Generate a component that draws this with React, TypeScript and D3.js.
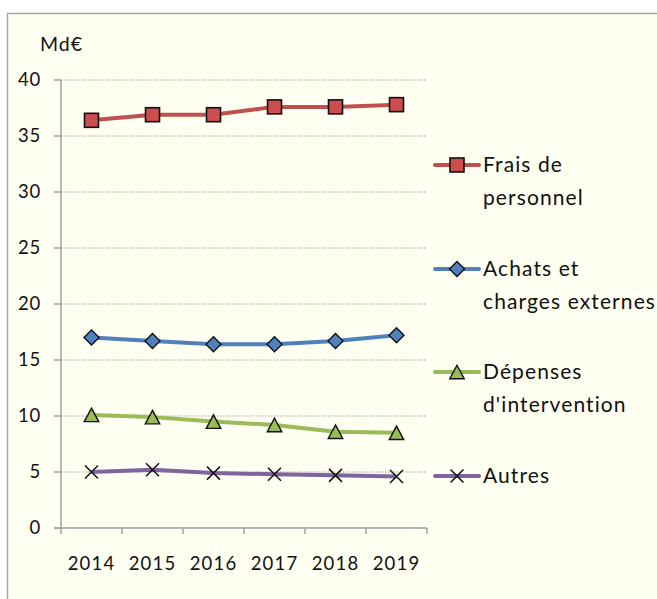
import React from "react";
import * as d3 from "d3";

const years = ["2014", "2015", "2016", "2017", "2018", "2019"];
const frais = [36.4, 36.9, 36.9, 37.6, 37.6, 37.8];
const achats = [17.0, 16.7, 16.4, 16.4, 16.7, 17.2];
const depenses = [10.1, 9.9, 9.5, 9.2, 8.6, 8.5];
const autres = [5.0, 5.2, 4.9, 4.8, 4.7, 4.6];
const yTicks = [0, 5, 10, 15, 20, 25, 30, 35, 40];
const unitLabel = "Md€";

const seriesNames = [["Frais de", "personnel"], ["Achats et", "charges externes"], ["Dépenses", "d'intervention"], ["Autres"]];
const seriesColors = ["#C0504D", "#4F81BD", "#9BBB59", "#8064A2"];
const markerFills = ["#CB4D4D", "#4F81BD", "#9BBB59", "none"];
const markerTypes = ["square", "diamond", "triangle", "x"];

const FONT = "Lato, 'Open Sans', sans-serif";

function Marker({ type, x, y, fill }: { type: string; x: number; y: number; fill: string }) {
  if (type === "square") {
    return <rect x={x - 7} y={y - 7} width={14} height={14} fill={fill} stroke="#111" strokeWidth={1.6} />;
  }
  if (type === "diamond") {
    const r = 7.5;
    return <path d={`M${x},${y - r}L${x + r},${y}L${x},${y + r}L${x - r},${y}Z`} fill={fill} stroke="#111" strokeWidth={1.4} />;
  }
  if (type === "triangle") {
    const h = 13.5, w = 14.5;
    return <path d={`M${x},${y - h / 2}L${x + w / 2},${y + h / 2}L${x - w / 2},${y + h / 2}Z`} fill={fill} stroke="#111" strokeWidth={1.4} />;
  }
  const r = 6.5;
  return <path d={`M${x - r},${y - r}L${x + r},${y + r}M${x + r},${y - r}L${x - r},${y + r}`} stroke="#111" strokeWidth={1.5} />;
}

export default function App() {
  const W = 657, H = 599;
  const x = d3.scaleBand<string>().domain(years).range([61, 427]);
  const y = d3.scaleLinear().domain([0, 40]).range([528, 80]);
  const data = [frais, achats, depenses, autres];
  const line = d3.line<number>().x((_, i) => (x(years[i]) as number) + x.bandwidth() / 2).y((d) => y(d));
  const legendY = [165, 269, 372, 476];
  const xEdges = [...years.map((yr) => x(yr) as number), 427];

  return (
    <svg width={W} height={H} style={{ position: "absolute", left: 0, top: 0 }} fontFamily={FONT}>
      <rect x={0} y={0} width={W} height={H} fill="#fff" />
      <rect x={7.5} y={13.5} width={W + 10} height={H + 10} fill="#FFFFF2" stroke="#A6A6A6" strokeWidth={1.5} />
      <text x={40} y={51} fontSize={19.5} letterSpacing={1} fill="#111">{unitLabel}</text>
      {yTicks.map((t) => (
        <g key={t}>
          {t > 0 && <line x1={61} x2={426} y1={y(t)} y2={y(t)} stroke="#A0A0A0" strokeWidth={1} strokeDasharray="1.5,1.5" />}
          <line x1={54} x2={61} y1={y(t)} y2={y(t)} stroke="#A0A0A0" strokeWidth={1.5} />
          <text x={41} y={y(t)} dy="0.35em" textAnchor="end" fontSize={18.5} letterSpacing={0.8} fill="#111">{t}</text>
        </g>
      ))}
      <line x1={61} x2={61} y1={80} y2={528} stroke="#A0A0A0" strokeWidth={1.5} />
      <line x1={54} x2={427} y1={528} y2={528} stroke="#A0A0A0" strokeWidth={1.5} />
      {xEdges.map((e, i) => (
        <line key={i} x1={e} x2={e} y1={528} y2={534} stroke="#A0A0A0" strokeWidth={1.5} />
      ))}
      {years.map((yr) => (
        <text key={yr} x={(x(yr) as number) + x.bandwidth() / 2} y={564} dy="0.35em" textAnchor="middle" fontSize={18.5} letterSpacing={1.2} fill="#111">{yr}</text>
      ))}
      {data.map((vals, si) => (
        <g key={si}>
          <path d={line(vals) || ""} fill="none" stroke={seriesColors[si]} strokeWidth={4} strokeLinejoin="round" />
          {vals.map((v, i) => (
            <Marker key={i} type={markerTypes[si]} x={(x(years[i]) as number) + x.bandwidth() / 2} y={y(v)} fill={markerFills[si]} />
          ))}
        </g>
      ))}
      {seriesNames.map((lines, si) => (
        <g key={si}>
          <line x1={435} x2={479} y1={legendY[si]} y2={legendY[si]} stroke={seriesColors[si]} strokeWidth={4} strokeLinecap="round" />
          <Marker type={markerTypes[si]} x={457} y={legendY[si]} fill={markerFills[si]} />
          {lines.map((l, li) => (
            <text key={li} x={483} y={legendY[si] + li * 33} dy="0.35em" fontSize={21} letterSpacing={1.1} fill="#111">{l}</text>
          ))}
        </g>
      ))}
    </svg>
  );
}
